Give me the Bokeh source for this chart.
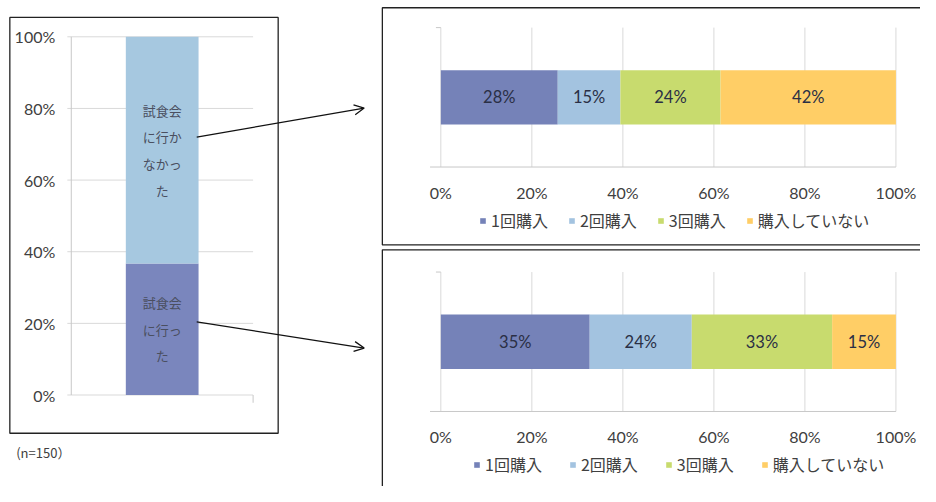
from bokeh.plotting import figure
from bokeh.models import (ColumnDataSource, Range1d, Legend, LegendItem, Arrow, OpenHead)
from bokeh.core.properties import value
from bokeh.embed import file_html
from bokeh.resources import INLINE

# ---------------- data ----------------
left_groups = ["試食会に行った", "試食会に行かなかった"]
left_share = [0.367, 0.633]
left_text = ["試食会\nに行っ\nた", "試食会\nに行か\nなかっ\nた"]
left_colors = ["#7A86BD", "#A6C8E0"]
n_label = "(n=150）"

buy_cats = ["1回購入", "2回購入", "3回購入", "購入していない"]
notwent_vals = [28, 15, 24, 42]   # 試食会に行かなかった
went_vals = [35, 24, 33, 15]      # 試食会に行った
buy_colors = ["#7582B8", "#A3C3E0", "#C8DB6E", "#FFCE66"]

pct_ticks = [0, 0.2, 0.4, 0.6, 0.8, 1.0]
pct_labels = ["0%", "20%", "40%", "60%", "80%", "100%"]

LAT = value("Lato")
CJK = value("Noto Sans CJK JP")
GRID = "#d9d9d9"
AXIS = "#c8c8c8"
TICK_COLOR = "#404040"

# ---------------- canvas: layout coordinates of the 936x502 sheet ----------------
CW, CH = 920, 486
SW, SH = 936, 502
p = figure(width=CW, height=CH, x_range=Range1d(0, SW), y_range=Range1d(SH, 0),
           output_backend="svg", toolbar_location=None, min_border=0)
p.axis.visible = False
p.grid.visible = False
p.outline_line_color = None


def lin_range(pa, va, pb, vb, lo, hi):
    k = (vb - va) / (pb - pa)
    return Range1d(start=va + (lo - pa) * k, end=va + (hi - pa) * k)


# sub-chart scales: left column chart, top and bottom breakdown bars
p.extra_x_ranges = {
    "lx": lin_range(72, -0.5, 257, 0.5, 0, SW),
    "tx": lin_range(448, 0.0, 911, 1.0, 0, SW),
    "bx": lin_range(448, 0.0, 911, 1.0, 0, SW),
}
p.extra_y_ranges = {
    "ly": lin_range(407.5, 0.0, 37.5, 1.0, SH, 0),
    "ty": lin_range(172, -0.5, 28, 0.5, SH, 0),
    "by": lin_range(424.5, -0.5, 280.5, 0.5, SH, 0),
}

# ---------------- panel frames ----------------
p.quad(left=[9.5, 388.5, 388.5], right=[282.5, 980, 980], top=[17.5, 7.5, 257.5],
       bottom=[447, 252.5, 530], fill_color=None, line_color="#222222", line_width=1.3)

# ---------------- left chart ----------------
L = dict(x_range_name="lx", y_range_name="ly")
n = len(pct_ticks)
p.segment(x0=[-0.5 - 4 / 185] * n, x1=[0.5] * n, y0=pct_ticks, y1=pct_ticks,
          line_color=GRID, line_width=1, **L)
p.segment(x0=[-0.5], x1=[-0.5], y0=[0], y1=[1], line_color=AXIS, line_width=1, **L)
p.segment(x0=[0.5], x1=[0.5], y0=[0], y1=[-8 / 370], line_color=AXIS, line_width=1, **L)
p.text(x=[-0.5] * n, y=pct_ticks, text=pct_labels, x_offset=-16, text_align="right",
       text_baseline="middle", text_font=LAT, text_font_size="16px", text_color=TICK_COLOR, **L)

bottoms, tops, mids = [], [], []
acc = 0.0
for s in left_share:
    bottoms.append(acc)
    tops.append(acc + s)
    mids.append(acc + s / 2)
    acc += s
lsrc = ColumnDataSource(dict(x=[0] * len(left_share), bottom=bottoms, top=tops,
                             mid=mids, txt=left_text, color=left_colors, grp=left_groups))
p.vbar(x="x", bottom="bottom", top="top", width=0.4, fill_color="color",
       line_color=None, source=lsrc, **L)
p.text(x="x", y="mid", text="txt", source=lsrc, text_align="center", text_baseline="middle",
       text_font=CJK, text_font_size="13px", text_line_height=1.4, text_color="#4a4f60", **L)

p.text(x=[16], y=[467], text=[n_label], text_baseline="middle", text_font=CJK,
       text_font_size="13px", text_color="#404040")

# arrows from the column segments to the breakdowns
for ys, ye in [(0.72, 0.801), (0.204, 0.131)]:
    p.add_layout(Arrow(x_start=0.19, y_start=ys, x_end=1.111, y_end=ye,
                       line_color="#111111", line_width=1.3,
                       end=OpenHead(size=10, line_color="#111111", line_width=1.3), **L))


# ---------------- breakdown bars ----------------
def breakdown(vals, group, xr, yr, legend_loc, spacing):
    R = dict(x_range_name=xr, y_range_name=yr)
    p.segment(x0=pct_ticks, x1=pct_ticks, y0=[-0.5] * n, y1=[0.5] * n,
              line_color=GRID, line_width=1, **R)
    p.segment(x0=[-11 / 463], x1=[1], y0=[-0.5], y1=[-0.5], line_color=AXIS, line_width=1, **R)
    p.segment(x0=[-5 / 463], x1=[0], y0=[0.5], y1=[0.5], line_color=AXIS, line_width=1, **R)
    p.text(x=pct_ticks, y=[-0.5] * n, text=pct_labels, y_offset=25, text_align="center",
           text_baseline="middle", text_font=LAT, text_font_size="16px",
           text_color=TICK_COLOR, **R)

    total = float(sum(vals))
    lefts, rights, cmid = [], [], []
    acc = 0.0
    for v in vals:
        s = v / total
        lefts.append(acc)
        rights.append(acc + s)
        cmid.append(acc + s / 2)
        acc += s
    src = ColumnDataSource(dict(y=[0] * len(vals), left=lefts, right=rights, mid=cmid,
                                lab=[f"{v}%" for v in vals], color=buy_colors, cat=buy_cats,
                                grp=[group] * len(vals)))
    r = p.hbar(y="y", left="left", right="right", height=0.39, fill_color="color",
               line_color=None, source=src, **R)
    p.text(x="mid", y="y", text="lab", source=src, text_align="center", text_baseline="middle",
           text_font=LAT, text_font_size="16.5px", text_color="#2a2f45", **R)

    legend = Legend(items=[LegendItem(label=c, renderers=[r], index=i)
                           for i, c in enumerate(buy_cats)],
                    orientation="horizontal", location=legend_loc,
                    glyph_width=7, glyph_height=7, label_height=18,
                    label_text_font="Noto Sans CJK JP", label_text_font_size="16px",
                    label_text_color="#404040", spacing=spacing, label_standoff=5,
                    border_line_color=None, background_fill_alpha=0, margin=0, padding=0)
    p.add_layout(legend)


breakdown(notwent_vals, left_groups[1], "tx", "ty", (479, 254), 20)
breakdown(went_vals, left_groups[0], "bx", "by", (473, 10), 27)

open("out.html", "w").write(file_html(p, INLINE))
